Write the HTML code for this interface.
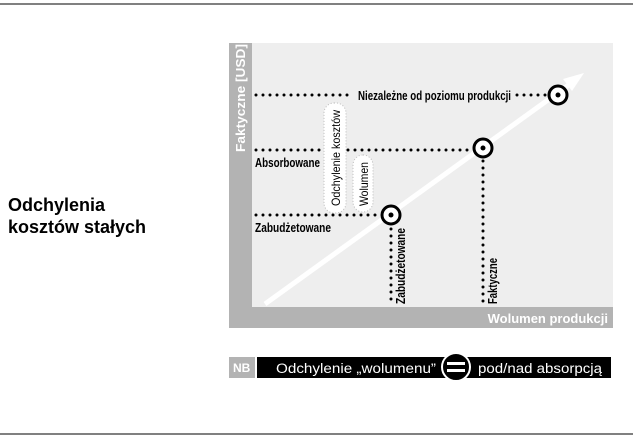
<!DOCTYPE html>
<html><head><meta charset="utf-8"><style>
body{margin:0;width:633px;height:438px;background:#fff;overflow:hidden;font-family:"Liberation Sans",sans-serif;}
</style></head><body>
<svg width="633" height="438" xmlns="http://www.w3.org/2000/svg" style="position:absolute;left:0;top:0">
<line x1="0" y1="4" x2="633" y2="4" stroke="#000" stroke-width="1"/>
<line x1="0" y1="434" x2="633" y2="434" stroke="#000" stroke-width="1"/>
<text x="8" y="211" font-size="18" font-weight="bold" font-family="Liberation Sans">Odchylenia</text>
<text x="8" y="233" font-size="18" font-weight="bold" font-family="Liberation Sans">kosztów stałych</text>
<rect x="229" y="43" width="384" height="285" fill="#b3b3b3"/>
<rect x="252" y="43" width="361" height="264" fill="#eeeeee"/>
<text transform="translate(245,152) rotate(-90)" font-size="13" font-weight="bold" fill="#fff" font-family="Liberation Sans" textLength="108" lengthAdjust="spacingAndGlyphs">Faktyczne [USD]</text>
<text x="608" y="323" text-anchor="end" font-size="13" font-weight="bold" fill="#fff" font-family="Liberation Sans">Wolumen produkcji</text>
<line x1="265" y1="304" x2="570" y2="84" stroke="#fff" stroke-width="5"/>
<polygon points="584,73 563,79 572,91" fill="#fff"/>
<g stroke="#000" stroke-width="3" stroke-dasharray="0,7" stroke-linecap="round" fill="none">
<line x1="256" y1="95" x2="352" y2="95"/>
<line x1="517" y1="95" x2="546" y2="95"/>
<line x1="256" y1="150" x2="320" y2="150"/>
<line x1="348" y1="150" x2="472" y2="150"/>
<line x1="256" y1="215" x2="380" y2="215"/>
<line x1="391" y1="229" x2="391" y2="305"/>
<line x1="483" y1="161" x2="483" y2="305"/>
</g>
<g stroke="#bbb" stroke-width="1" stroke-dasharray="1,2" fill="#fff">
<rect x="324" y="103" width="22" height="110" rx="10"/>
<rect x="353" y="155" width="20" height="57" rx="10"/>
</g>
<text transform="translate(340,206) rotate(-90)" font-size="12" font-family="Liberation Sans" textLength="96" lengthAdjust="spacingAndGlyphs">Odchylenie kosztów</text>
<text transform="translate(368,206) rotate(-90)" font-size="12" font-family="Liberation Sans" textLength="44" lengthAdjust="spacingAndGlyphs">Wolumen</text>
<g font-size="12.5" font-weight="bold" font-family="Liberation Sans">
<text x="358" y="100" textLength="153" lengthAdjust="spacingAndGlyphs">Niezależne od poziomu produkcji</text>
<text x="255" y="167" textLength="65" lengthAdjust="spacingAndGlyphs">Absorbowane</text>
<text x="255" y="232" textLength="76" lengthAdjust="spacingAndGlyphs">Zabudżetowane</text>
<text transform="translate(405,304) rotate(-90)" textLength="76" lengthAdjust="spacingAndGlyphs">Zabudżetowane</text>
<text transform="translate(497,304) rotate(-90)" textLength="46" lengthAdjust="spacingAndGlyphs">Faktyczne</text>
</g>
<g fill="#fff" stroke="#000" stroke-width="3">
<circle cx="558" cy="95" r="9"/><circle cx="483" cy="148" r="9"/><circle cx="391" cy="215" r="9"/>
</g>
<g fill="#000"><circle cx="558" cy="95" r="2.5"/><circle cx="483" cy="148" r="2.5"/><circle cx="391" cy="215" r="2.5"/></g>
<rect x="229" y="357" width="26" height="21" fill="#b3b3b3"/>
<text x="233" y="372" font-size="12" font-weight="bold" fill="#fff" font-family="Liberation Sans">NB</text>
<rect x="257" y="357" width="354" height="21" fill="#000"/>
<text x="276" y="373" font-size="13.5" fill="#fff" font-family="Liberation Sans" textLength="160" lengthAdjust="spacingAndGlyphs">Odchylenie „wolumenu”</text>
<circle cx="456" cy="367" r="14" fill="#000" stroke="#fff" stroke-width="2"/>
<rect x="447" y="362" width="18" height="3" fill="#fff"/><rect x="447" y="369" width="18" height="3" fill="#fff"/>
<text x="478" y="373" font-size="13.5" fill="#fff" font-family="Liberation Sans" textLength="124" lengthAdjust="spacingAndGlyphs">pod/nad absorpcją</text>
</svg>
</body></html>
